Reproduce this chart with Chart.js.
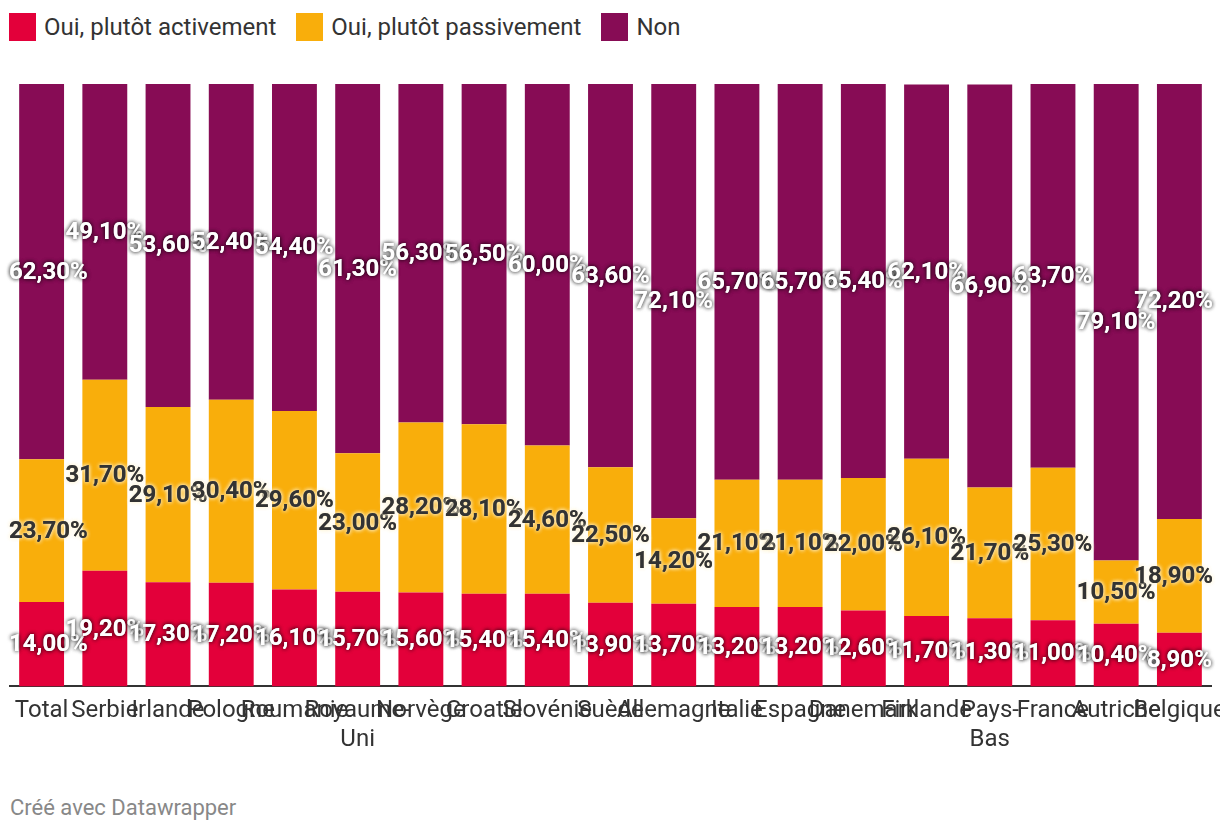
<!DOCTYPE html>
<html lang="fr">
<head>
<meta charset="utf-8">
<script src="https://cdn.jsdelivr.net/npm/chart.js@4"></script>
<style>
  html, body { margin: 0; padding: 0; background: #fff; overflow: hidden; }
  #wrap { position: relative; width: 1220px; height: 834px; }
  #legend { position: absolute; left: 9px; top: 13px; display: flex; font: 24px Roboto, sans-serif; color: #333; }
  .item { display: flex; align-items: center; margin-right: 20px; height: 28px; }
  .sw { width: 27px; height: 28px; margin-right: 8px; }
  #chart-box { position: absolute; left: 0; top: 0; width: 1220px; height: 756px; }
  #credit { position: absolute; left: 10px; top: 795px; font: 22px Roboto, sans-serif; color: #888; }
</style>
</head>
<body>
<div id="wrap">
  <div id="legend"></div>
  <div id="chart-box"><canvas id="engagementChart"></canvas></div>
  <div id="credit">Créé avec Datawrapper</div>
</div>
<script>
// categories + series (percent)
const countries = ['Total', 'Serbie', 'Irlande', 'Pologne', 'Roumanie', ['Royaume-', 'Uni'], 'Norvège', 'Croatie',
    'Slovénie', 'Suède', 'Allemagne', 'Italie', 'Espagne', 'Danemark', 'Finlande', ['Pays-', 'Bas'], 'France',
    'Autriche', 'Belgique'];
const activement = [14.0, 19.2, 17.3, 17.2, 16.1, 15.7, 15.6, 15.4, 15.4, 13.9, 13.7, 13.2, 13.2, 12.6, 11.7, 11.3, 11.0, 10.4, 8.9];
const passivement = [23.7, 31.7, 29.1, 30.4, 29.6, 23.0, 28.2, 28.1, 24.6, 22.5, 14.2, 21.1, 21.1, 22.0, 26.1, 21.7, 25.3, 10.5, 18.9];
const non = [62.3, 49.1, 53.6, 52.4, 54.4, 61.3, 56.3, 56.5, 60.0, 63.6, 72.1, 65.7, 65.7, 65.4, 62.1, 66.9, 63.7, 79.1, 72.2];

const seriesNames = ['Oui, plutôt activement', 'Oui, plutôt passivement', 'Non'];
const seriesColors = ['#e3003a', '#f9ae0b', '#870c55'];

const fmtPct = v => v.toFixed(2).replace('.', ',') + '%';

// value labels centred in each segment, kept inside the plot area
const segmentLabels = {
    id: 'segmentLabels',
    afterDatasetsDraw(chart) {
        const ctx = chart.ctx;
        const area = chart.chartArea;
        ctx.save();
        ctx.font = 'bold 24px Roboto, sans-serif';
        ctx.textAlign = 'center';
        ctx.textBaseline = 'middle';
        chart.data.datasets.forEach((ds, i) => {
            const meta = chart.getDatasetMeta(i);
            const dark = i === 1;
            meta.data.forEach((bar, j) => {
                const text = fmtPct(ds.data[j]);
                const w = ctx.measureText(text).width;
                let x = bar.x;
                x = Math.max(x, area.left - 1 + w / 2);
                x = Math.min(x, area.right + 2 - w / 2);
                const y = (bar.y + bar.base) / 2 + 1;
                ctx.fillStyle = dark ? '#333333' : '#ffffff';
                ctx.shadowColor = dark ? 'rgba(255,244,214,0.95)' : 'rgba(0,0,0,0.6)';
                ctx.shadowBlur = 4;
                ctx.fillText(text, x, y);
                ctx.fillText(text, x, y);
            });
        });
        ctx.restore();
    }
};

// legend
const legendEl = document.getElementById('legend');
legendEl.innerHTML = seriesNames.map((name, i) =>
    `<div class="item"><span class="sw" style="background:${seriesColors[i]}"></span>${name}</div>`
).join('');

new Chart(document.getElementById('engagementChart'), {
    type: 'bar',
    data: {
        labels: countries,
        datasets: seriesNames.map((name, i) => ({
            label: name,
            data: [activement, passivement, non][i],
            backgroundColor: seriesColors[i]
        }))
    },
    options: {
        responsive: true,
        maintainAspectRatio: false,
        animation: false,
        layout: { padding: { left: 10, right: 9, top: 84, bottom: 0 } },
        datasets: { bar: { barPercentage: 0.71, categoryPercentage: 1 } },
        plugins: {
            legend: { display: false },
            tooltip: { enabled: false }
        },
        scales: {
            x: {
                stacked: true,
                grid: { display: false },
                border: { display: true, color: '#333', width: 2 },
                ticks: {
                    color: '#333',
                    font: { family: 'Roboto', size: 24 },
                    autoSkip: false,
                    maxRotation: 0,
                    padding: 2
                },
                afterFit(scale) { scale.paddingLeft = 0; scale.paddingRight = 0; }
            },
            y: {
                stacked: true,
                display: false,
                min: 0,
                max: 100
            }
        }
    },
    plugins: [segmentLabels]
});
</script>
</body>
</html>
